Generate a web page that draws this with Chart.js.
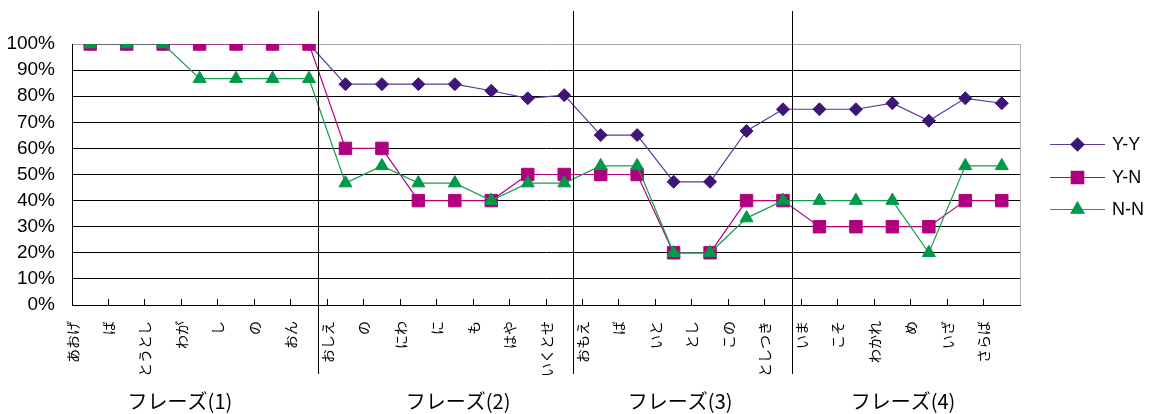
<!DOCTYPE html>
<html lang="ja">
<head>
<meta charset="utf-8">
<title>フレーズ別 一致率</title>
<script src="https://cdn.jsdelivr.net/npm/chart.js@4.4.1/dist/chart.umd.min.js"></script>
<style>
  html, body { margin: 0; padding: 0; background: #fff; }
</style>
</head>
<body>
<canvas id="chart" width="1157" height="414"></canvas>
<script>
// words of the song, grouped by phrase (7, 7, 6, 6)
const words = [
  'あおげ', 'ば', 'とうとし', 'わが', 'し', 'の', 'おん',
  'おしえ', 'の', 'にわ', 'に', 'も', 'はや', 'いくとせ',
  'おもえ', 'ば', 'いと', 'とし', 'この', 'としつき',
  'いま', 'こそ', 'わかれ', 'め', 'いざ', 'さらば'
];

const seriesNames = ['Y-Y', 'Y-N', 'N-N'];

// values, in %
const yyValues = [
  100, 100, 100, 100, 100, 100, 100,
  84.6, 84.6, 84.6, 84.6, 82.1, 79.2, 80.4,
  65.1, 65.1, 47.2, 47.2, 66.7, 75.0,
  75.0, 75.0, 77.3, 70.6, 79.2, 77.3
];
const ynValues = [
  100, 100, 100, 100, 100, 100, 100,
  60, 60, 40, 40, 40, 50, 50,
  50, 50, 20, 20, 40, 40,
  30, 30, 30, 30, 40, 40
];
const nnValues = [
  100, 100, 100, 86.7, 86.7, 86.7, 86.7,
  46.7, 53.3, 46.7, 46.7, 40, 46.7, 46.7,
  53.3, 53.3, 20, 20, 33.3, 40,
  40, 40, 40, 20, 53.3, 53.3
];

const phraseNames = ['フレーズ(1)', 'フレーズ(2)', 'フレーズ(3)', 'フレーズ(4)'];

// where the phrase captions and dividers sit, in category units
const phraseCenters = [2.46, 10.09, 16.18, 22.29];
const phraseBreaks = [6.25, 13.25, 19.25];

const lineColors = ['#5a3aa0', '#b8007f', '#14a04a'];
const markColors = ['#3d1677', '#b0007e', '#00994a'];
const markStyles = ['rectRot', 'rect', 'triangle'];
const markSizes = [6.5, 8.8, 7.5];

const jpFont = '"Noto Sans CJK JP", "Noto Sans", sans-serif';
const latinFont = '"Liberation Sans", Arial, sans-serif';

// plot border on the right, dividers, phrase captions and the legend
const extras = {
  id: 'extras',
  beforeDatasetsDraw(chart) {
    const { ctx, chartArea: ca } = chart;
    ctx.save();
    ctx.strokeStyle = '#b4b4b4';
    ctx.lineWidth = 1;
    ctx.beginPath();
    ctx.moveTo(Math.round(ca.right) + 0.5, ca.top);
    ctx.lineTo(Math.round(ca.right) + 0.5, ca.bottom);
    ctx.stroke();
    ctx.restore();
  },
  afterDraw(chart) {
    const { ctx, chartArea: ca } = chart;
    const x = chart.scales.x;
    ctx.save();

    ctx.strokeStyle = '#000';
    ctx.lineWidth = 1;
    phraseBreaks.forEach(v => {
      const px = Math.round(x.getPixelForValue(v)) + 0.5;
      ctx.beginPath();
      ctx.moveTo(px, ca.top - 33);
      ctx.lineTo(px, x.bottom - 1);
      ctx.stroke();
    });

    ctx.fillStyle = '#000';
    ctx.font = '20px ' + jpFont;
    ctx.textAlign = 'center';
    ctx.textBaseline = 'middle';
    phraseNames.forEach((name, i) => {
      ctx.fillText(name, x.getPixelForValue(phraseCenters[i]), chart.height - 13);
    });

    // legend: line with marker, then the name
    const cy = (ca.top + ca.bottom) / 2 + 2;
    chart.data.datasets.forEach((ds, i) => {
      const y = Math.round(cy + (i - 1) * 32.5) + 0.5;
      const x0 = ca.right + 30;
      ctx.strokeStyle = ds.borderColor;
      ctx.lineWidth = ds.borderWidth;
      ctx.beginPath();
      ctx.moveTo(x0, y);
      ctx.lineTo(x0 + 55, y);
      ctx.stroke();
      ctx.fillStyle = ds.pointBackgroundColor;
      ctx.strokeStyle = ds.pointBorderColor;
      Chart.helpers.drawPoint(ctx, {
        pointStyle: ds.pointStyle, radius: ds.pointRadius, borderWidth: 1, rotation: 0
      }, x0 + 27.5, y);
      ctx.fillStyle = '#000';
      ctx.font = '18px ' + latinFont;
      ctx.textAlign = 'left';
      ctx.fillText(ds.label, x0 + 62, y + 1);
    });

    ctx.restore();
  }
};

const allValues = [yyValues, ynValues, nnValues];

new Chart(document.getElementById('chart'), {
  type: 'line',
  data: {
    labels: words,
    datasets: seriesNames.map((name, i) => ({
      label: name,
      data: allValues[i],
      borderColor: lineColors[i],
      borderWidth: 1.2,
      pointStyle: markStyles[i],
      pointRadius: markSizes[i],
      pointHoverRadius: markSizes[i],
      pointBackgroundColor: markColors[i],
      pointBorderColor: markColors[i],
      pointBorderWidth: 1,
      tension: 0,
      order: 3 - i
    }))
  },
  options: {
    responsive: false,
    animation: false,
    devicePixelRatio: 1,
    layout: { padding: { top: 44, left: 8, right: 137, bottom: 39 } },
    plugins: {
      legend: { display: false },
      tooltip: { enabled: false }
    },
    scales: {
      x: {
        type: 'category',
        offset: true,
        afterFit: s => { s.height = 70; },
        grid: {
          offset: true,
          drawOnChartArea: false,
          drawTicks: true,
          tickLength: -6,
          color: '#000'
        },
        border: { color: '#000', width: 1 },
        ticks: {
          autoSkip: false,
          minRotation: 90,
          maxRotation: 90,
          padding: 22,
          labelOffset: -18,
          color: '#000',
          font: { family: jpFont, size: 14 }
        }
      },
      y: {
        min: 0,
        max: 100,
        afterFit: s => { s.width = 64; },
        grid: {
          drawTicks: false,
          color: c => (c.tick && c.tick.value === 100 ? '#a8a8a8' : '#000')
        },
        border: { color: '#000', width: 1 },
        ticks: {
          stepSize: 10,
          autoSkip: false,
          padding: 17,
          color: '#000',
          font: { family: latinFont, size: 19 },
          callback: v => v + '%'
        }
      }
    }
  },
  plugins: [extras]
});
</script>
</body>
</html>
